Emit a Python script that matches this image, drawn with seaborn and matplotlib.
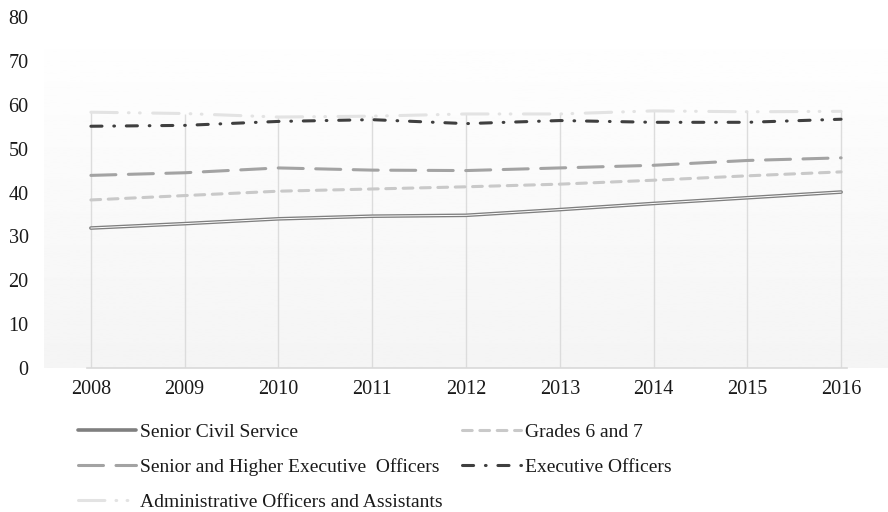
import numpy as np
import pandas as pd
import matplotlib
matplotlib.use('Agg')
import matplotlib.pyplot as plt
import seaborn as sns

years = [2008, 2009, 2010, 2011, 2012, 2013, 2014, 2015, 2016]

senior_civil_service = [31.9, 32.9, 34.0, 34.6, 34.8, 36.1, 37.5, 38.8, 40.1]
grades_6_and_7 = [38.3, 39.3, 40.3, 40.8, 41.3, 41.9, 42.8, 43.8, 44.7]
senior_higher_eo = [43.9, 44.5, 45.6, 45.1, 45.0, 45.6, 46.2, 47.3, 47.9]
executive_officers = [55.1, 55.3, 56.2, 56.6, 55.7, 56.4, 56.0, 56.0, 56.7]
admin_officers = [58.3, 58.0, 57.2, 57.4, 57.9, 57.9, 58.6, 58.4, 58.5]

labels = ["Senior Civil Service", "Grades 6 and 7",
          "Senior and Higher Executive  Officers", "Executive Officers",
          "Administrative Officers and Assistants"]

sns.set_style("white")
plt.rcParams['font.family'] = ['Liberation Serif', 'DejaVu Serif']
plt.rcParams['lines.scale_dashes'] = False

fig = plt.figure(figsize=(8.88, 5.12), dpi=100)
ax = fig.add_axes([44 / 888, 1 - 368 / 512, 1 - 44 / 888, (368 - 17) / 512])

# plot area gradient: light grey at bottom fading to white at top
grad = np.linspace(0.958, 1.0, 256).reshape(-1, 1)
ax.imshow(grad, cmap='gray', vmin=0, vmax=1, origin='lower', aspect='auto',
          extent=[2007.5, 2016.5, 0, 80], zorder=0)

# drop lines from highest point down to axis
tops = np.max([senior_civil_service, grades_6_and_7, senior_higher_eo,
               executive_officers, admin_officers], axis=0)
ax.vlines(years, 0, tops, color='#dcdcdc', lw=1, zorder=1)

lw = 2.2
sns.lineplot(x=years, y=senior_civil_service, ax=ax, color='#7f7f7f',
             lw=2.6, label=labels[0], zorder=3)
ax.plot(years, senior_civil_service, color='white', lw=0.7, zorder=3.1)
sns.lineplot(x=years, y=grades_6_and_7, ax=ax, color='#c9c9c9', lw=lw,
             linestyle=(0, (7, 5.5)), dash_capstyle='round',
             label=labels[1], zorder=3)
sns.lineplot(x=years, y=senior_higher_eo, ax=ax, color='#a3a3a3', lw=lw,
             linestyle=(0, (18, 9)), dash_capstyle='round',
             label=labels[2], zorder=3)
sns.lineplot(x=years, y=executive_officers, ax=ax, color='#3f3f3f', lw=lw,
             linestyle=(0, (8, 8.5, 0.5, 8.5)), dash_capstyle='round',
             label=labels[3], zorder=3)
sns.lineplot(x=years, y=admin_officers, ax=ax, color='#e3e3e3', lw=lw,
             linestyle=(0, (19, 8, 0.5, 7.5, 0.5, 9)), dash_capstyle='round',
             label=labels[4], zorder=2.5)

ax.set_xlim(2007.5, 2016.5)
ax.set_ylim(0, 80)
ax.set_xticks(years)
ax.set_xticklabels([str(y) for y in years])
ax.set_yticks(range(0, 81, 10))
ax.tick_params(axis='both', length=0, labelsize=14.5, colors='#1a1a1a')
ax.tick_params(axis='y', pad=11)
ax.tick_params(axis='x', pad=9)
for side in ['top', 'right', 'left']:
    ax.spines[side].set_visible(False)
ax.spines['bottom'].set_color('#d9d9d9')
ax.spines['bottom'].set_linewidth(1.2)
ax.spines['bottom'].set_bounds(2007.96, 2016.06)
ax.grid(False)

handles, labs = ax.get_legend_handles_labels()
ax.get_legend().remove()
order = [0, 2, 4, 1, 3]
fig.legend([handles[i] for i in order], [labs[i] for i in order],
           ncol=2, loc='upper left', bbox_to_anchor=(78 / 888, 1 - 423 / 512),
           frameon=False, fontsize=14, handlelength=3.0, handletextpad=0.2,
           columnspacing=1.0, labelspacing=0.9, borderpad=0, borderaxespad=0,
           labelcolor='#1a1a1a')

fig.savefig('out.png', dpi=100)
